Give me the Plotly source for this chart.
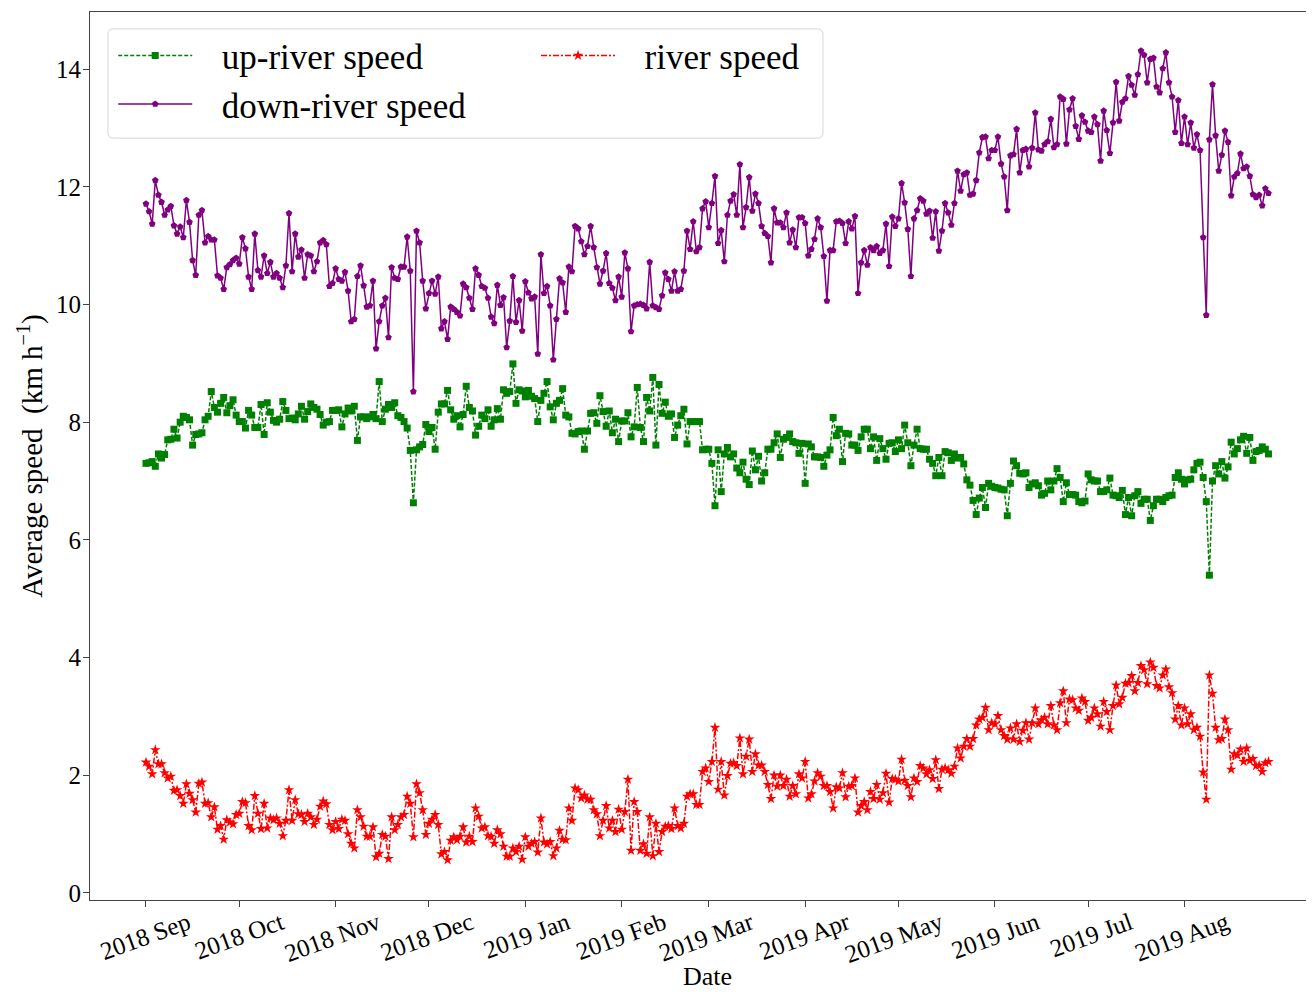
import pandas as pd
import plotly.graph_objects as go

# daily averages, 2018-09-01 .. 2019-08-28
start_date = "2018-09-01"

up_river = [
    7.30, 7.31, 7.33, 7.25, 7.46, 7.39, 7.45, 7.70, 7.71, 7.88,
    7.73, 8.00, 8.10, 8.08, 8.04, 7.61, 7.79, 7.80, 7.82, 8.04,
    8.10, 8.52, 8.25, 8.17, 8.32, 8.42, 8.16, 8.28, 8.38, 8.12,
    8.01, 8.01, 7.90, 8.20, 8.12, 7.91, 7.91, 8.30, 7.79, 8.33,
    8.17, 8.03, 8.00, 8.05, 8.35, 8.20, 8.06, 8.07, 8.04, 8.14,
    8.27, 8.05, 8.18, 8.31, 8.25, 8.22, 8.13, 7.95, 8.00, 8.01,
    8.20, 8.20, 8.21, 7.92, 8.14, 8.24, 8.19, 8.27, 7.69, 8.09,
    8.09, 8.06, 8.09, 8.13, 8.06, 8.69, 8.01, 8.22, 8.30, 8.25,
    8.33, 8.11, 8.08, 8.01, 7.90, 7.52, 6.63, 7.53, 7.58, 7.62, 7.96,
    7.84, 7.91, 7.54, 8.17, 8.31, 8.31, 8.54, 8.21, 8.05, 8.11,
    7.92, 8.13, 8.61, 8.25, 8.19, 7.78, 7.93, 8.12, 8.06, 8.21,
    7.93, 8.04, 8.23, 8.05, 8.55, 8.49, 8.52, 8.99, 8.32, 8.55,
    8.53, 8.43, 8.54, 8.44, 8.40, 8.01, 8.37, 8.49, 8.69, 8.26,
    8.04, 8.32, 8.37, 8.57, 8.12, 8.09, 7.81, 7.80, 7.84, 7.85,
    7.54, 7.85, 8.15, 8.16, 7.98, 8.45, 8.18, 7.93, 8.19, 7.82,
    8.05, 7.67, 8.02, 8.02, 8.16, 7.75, 7.92, 8.59, 7.91, 7.67,
    8.42, 8.19, 8.76, 7.61, 8.64, 8.15, 8.34, 8.10, 8.14, 7.74,
    7.95, 8.11, 8.22, 7.63, 8.01,
    8.01, 8.01, 8.01, 7.53, 7.54, 7.54, 7.30, 6.58, 7.53, 6.82,
    7.46, 7.57, 7.41, 7.46, 7.22, 7.14, 7.32, 7.03, 6.94, 7.51,
    7.19, 7.42, 7.00, 7.14, 7.54, 7.54, 7.65, 7.80, 7.40, 7.71,
    7.74, 7.80, 7.67, 7.65, 7.47, 7.64, 6.96, 7.63, 7.58, 7.41,
    7.41, 7.40, 7.25, 7.44, 7.53, 8.08, 7.77, 7.88, 7.33, 7.81,
    7.80, 7.61, 7.61, 7.52, 7.75, 7.88, 7.88, 7.55, 7.75, 7.35,
    7.72, 7.55, 7.37, 7.64, 7.65, 7.50, 7.70, 7.55, 7.95, 7.65,
    7.26, 7.61, 7.88, 7.55, 7.54, 7.54, 7.37, 7.30, 7.09, 7.40,
    7.09, 7.50, 7.48, 7.35, 7.46, 7.39, 7.40, 7.29, 7.02, 6.93,
    6.67, 6.43, 6.71, 6.89, 6.55, 6.96, 6.91, 6.89, 6.88, 6.86,
    6.85, 6.41, 6.96, 7.34, 7.26, 7.13, 7.12, 7.14, 6.89, 6.95,
    6.97, 6.92, 6.76, 6.79, 7.00, 6.85, 7.00, 7.21, 7.06, 6.65,
    6.97, 6.77, 6.77, 6.76, 6.65, 6.63, 6.66, 7.12, 7.02, 7.00,
    7.00, 6.82, 6.82, 6.85, 7.05, 6.76, 6.75, 6.72, 6.84, 6.43,
    6.72, 6.41, 6.75, 6.82, 6.62, 6.69, 6.69, 6.33, 6.58, 6.69,
    6.69, 6.65, 6.72, 6.75, 6.76, 7.06, 7.14, 7.03, 6.95, 7.02,
    7.03, 7.19, 7.30, 7.32, 7.06, 6.65, 5.40, 7.00, 7.26, 7.12,
    7.33, 7.05, 7.24, 7.66, 7.46, 7.55, 7.70, 7.76, 7.47, 7.74,
    7.35, 7.50, 7.52, 7.58, 7.54, 7.46,
]

down_river = [
    11.71, 11.58, 11.37, 12.11, 11.86, 11.74, 11.52, 11.61, 11.67, 11.34,
    11.20, 11.32, 11.14, 11.77, 11.40, 10.75, 10.50, 11.52, 11.60, 11.05,
    11.16, 11.10, 11.10, 10.49, 10.45, 10.26, 10.63, 10.68, 10.75, 10.79,
    10.69, 11.14, 10.95, 10.47, 10.26, 11.20, 10.58, 10.47, 10.83, 10.53,
    10.72, 10.47, 10.53, 10.45, 10.29, 10.66, 11.55, 10.56, 11.20, 10.81,
    10.93, 10.45, 10.85, 10.83, 10.56, 10.73, 11.05, 11.09, 11.02, 10.31,
    10.36, 10.61, 10.43, 10.40, 10.55, 10.23, 9.71, 9.75, 10.48, 10.66,
    10.32, 9.96, 9.98, 10.40, 9.25, 9.71, 9.98, 10.11, 9.44, 10.63,
    10.45, 10.43, 10.64, 10.64, 11.15, 10.57, 8.52, 11.25, 11.05, 10.40, 9.93,
    10.19, 10.40, 10.18, 10.47, 9.59, 9.71, 9.41, 9.96, 9.92, 9.87,
    9.81, 10.35, 10.29, 10.11, 9.92, 10.61, 10.50, 10.31, 10.28, 10.11,
    9.79, 9.68, 10.33, 9.99, 10.12, 9.27, 9.72, 10.48, 9.70, 10.07,
    9.55, 10.39, 10.20, 10.10, 10.13, 9.16, 10.85, 10.19, 10.31, 9.98,
    9.06, 9.75, 10.44, 10.37, 9.87, 10.64, 10.56, 11.33, 11.29, 11.07,
    10.85, 10.99, 11.33, 10.97, 10.63, 10.35, 10.57, 10.87, 10.36, 10.28,
    10.07, 10.47, 10.13, 10.88, 10.61, 9.54, 9.98, 10.00, 10.01, 9.99,
    9.93, 10.72, 9.98, 9.95, 9.92, 10.15, 10.54, 10.43, 10.23, 10.56,
    10.23, 10.26, 10.57, 11.25, 10.94,
    11.41, 10.90, 10.97, 11.63, 11.75, 11.31, 11.72, 12.18, 11.04, 11.26,
    10.73, 11.52, 11.76, 11.87, 11.52, 12.38, 11.31, 11.65, 12.16, 11.59,
    11.88, 11.72, 11.33, 11.21, 11.16, 10.71, 11.63, 11.39, 11.39, 11.31,
    11.56, 11.05, 11.27, 10.97, 11.48, 11.48, 11.38, 10.83, 10.94, 11.11,
    11.46, 11.31, 10.82, 10.06, 10.92, 10.92, 11.41, 11.42, 11.38, 11.04,
    11.41, 11.29, 11.50, 10.19, 10.71, 10.92, 10.67, 10.97, 10.92, 10.99,
    10.87, 10.92, 11.37, 10.65, 11.49, 11.33, 11.46, 12.06, 11.73, 11.28,
    10.48, 11.46, 11.60, 11.80, 11.76, 11.54, 11.59, 11.13, 11.58, 10.91,
    11.25, 11.72, 11.56, 11.35, 11.72, 12.27, 11.93, 12.21, 12.24, 11.86,
    11.88, 12.11, 12.58, 12.84, 12.85, 12.48, 12.62, 12.62, 12.85, 12.39,
    12.17, 11.60, 12.53, 12.55, 12.98, 12.24, 12.62, 12.64, 12.34, 12.66,
    13.26, 12.63, 12.61, 12.72, 12.77, 13.15, 12.67, 12.72, 13.53, 13.49,
    12.73, 13.31, 13.50, 13.03, 12.81, 13.21, 13.10, 12.95, 12.93, 13.19,
    13.06, 12.44, 13.29, 12.96, 12.57, 13.09, 13.78, 13.12, 13.44, 13.50,
    13.88, 13.73, 13.56, 13.91, 14.31, 14.24, 13.77, 14.17, 14.19, 13.70,
    13.60, 14.01, 14.28, 13.77, 13.53, 12.93, 13.47, 12.74, 13.19, 12.72,
    13.09, 12.66, 12.89, 12.62, 11.14, 9.82, 12.80, 13.74, 12.87, 12.27,
    12.54, 12.95, 12.76, 11.85, 12.17, 12.23, 12.56, 12.31, 12.34, 12.18,
    11.87, 11.82, 11.86, 11.68, 11.97, 11.89,
]

river = [
    2.22, 2.15, 2.02, 2.43, 2.19, 2.19, 2.04, 1.95, 1.98, 1.74,
    1.75, 1.65, 1.52, 1.85, 1.69, 1.58, 1.37, 1.86, 1.88, 1.52,
    1.53, 1.29, 1.46, 1.08, 1.14, 0.91, 1.24, 1.20, 1.17, 1.33,
    1.35, 1.55, 1.53, 1.14, 1.07, 1.65, 1.35, 1.09, 1.52, 1.10,
    1.27, 1.24, 1.27, 1.18, 0.97, 1.23, 1.75, 1.23, 1.58, 1.34,
    1.33, 1.21, 1.35, 1.29, 1.16, 1.25, 1.47, 1.56, 1.51, 1.16,
    1.07, 1.21, 1.09, 1.25, 1.23, 1.00, 0.84, 0.76, 1.41, 1.29,
    1.13, 0.96, 0.96, 1.12, 0.61, 0.67, 0.99, 0.96, 0.58, 1.29,
    1.07, 1.16, 1.29, 1.33, 1.64, 1.52, 0.95, 1.85, 1.70, 1.41, 0.99,
    1.18, 1.25, 1.33, 1.16, 0.66, 0.70, 0.56, 0.89, 0.95, 0.90,
    0.96, 1.12, 0.86, 0.96, 0.87, 1.44, 1.30, 1.10, 1.12, 0.97,
    0.96, 0.84, 1.07, 1.00, 0.79, 0.62, 0.62, 0.76, 0.70, 0.79,
    0.57, 0.95, 0.79, 0.84, 0.87, 0.69, 1.27, 0.86, 0.83, 0.87,
    0.63, 0.76, 1.06, 0.91, 0.90, 1.44, 1.23, 1.78, 1.75, 1.61,
    1.66, 1.59, 1.59, 1.41, 1.34, 0.97, 1.23, 1.48, 1.10, 1.23,
    1.04, 1.42, 1.08, 1.38, 1.93, 0.72, 1.55, 1.38, 0.72, 0.83,
    0.67, 1.29, 0.63, 1.18, 0.70, 1.04, 1.13, 1.14, 1.09, 1.44,
    1.14, 1.10, 1.18, 1.64, 1.68,
    1.68, 1.50, 1.50, 2.06, 2.12, 1.89, 2.23, 2.81, 1.76, 2.23,
    1.66, 1.99, 2.20, 2.21, 2.16, 2.63, 2.02, 2.32, 2.61, 2.06,
    2.36, 2.17, 2.17, 2.06, 1.84, 1.60, 2.00, 1.81, 2.00, 1.82,
    1.93, 1.64, 1.82, 1.68, 2.02, 1.95, 2.23, 1.61, 1.68, 1.90,
    2.04, 1.98, 1.82, 1.82, 1.72, 1.44, 1.80, 1.78, 2.04, 1.63,
    1.81, 1.82, 1.95, 1.37, 1.48, 1.55, 1.41, 1.72, 1.60, 1.84,
    1.59, 1.70, 2.03, 1.54, 1.94, 1.93, 1.90, 2.27, 1.91, 1.82,
    1.63, 1.95, 1.89, 2.16, 2.12, 2.02, 2.09, 1.94, 2.26, 1.77,
    2.10, 2.12, 2.09, 2.03, 2.15, 2.46, 2.29, 2.49, 2.62, 2.49,
    2.62, 2.85, 2.95, 2.98, 3.15, 2.77, 2.89, 2.87, 3.01, 2.77,
    2.67, 2.61, 2.80, 2.61, 2.87, 2.57, 2.76, 2.89, 2.61, 2.89,
    3.14, 2.87, 2.94, 2.98, 2.87, 3.18, 2.85, 2.77, 3.23, 3.43,
    2.89, 3.29, 3.28, 3.14, 3.10, 3.31, 3.25, 2.93, 2.98, 3.14,
    3.04, 2.83, 3.25, 3.08, 2.77, 3.18, 3.53, 3.21, 3.32, 3.56,
    3.57, 3.69, 3.43, 3.57, 3.86, 3.79, 3.55, 3.92, 3.83, 3.52,
    3.48, 3.70, 3.80, 3.50, 3.40, 2.95, 3.18, 2.85, 3.14, 2.87,
    3.04, 2.77, 2.81, 2.66, 2.05, 1.59, 3.70, 3.39, 2.81, 2.60,
    2.62, 2.95, 2.77, 2.10, 2.36, 2.34, 2.44, 2.23, 2.46, 2.25,
    2.28, 2.16, 2.17, 2.06, 2.21, 2.23,
]

dates = pd.date_range(start_date, periods=len(up_river), freq="D")
month_ticks = pd.date_range(start_date, dates[-1], freq="MS")

FONT = "Liberation Serif, Times New Roman, serif"
GAP = "\u2002\u2009"  # space between legend handle and its label

fig = go.Figure()

fig.add_trace(
    go.Scatter(
        x=dates,
        y=up_river,
        mode="lines+markers",
        name=GAP + "up-river speed",
        legend="legend",
        line=dict(color="green", width=1.5, dash="4px,2px"),
        marker=dict(symbol="square", size=7, color="green"),
    )
)
fig.add_trace(
    go.Scatter(
        x=dates,
        y=down_river,
        mode="lines+markers",
        name=GAP + "down-river speed",
        legend="legend",
        line=dict(color="purple", width=1.5),
        marker=dict(symbol="pentagon", size=7, color="purple"),
    )
)
fig.add_trace(
    go.Scatter(
        x=dates,
        y=river,
        mode="lines+markers",
        name=GAP + "river speed",
        legend="legend2",
        line=dict(color="red", width=1.5, dash="6px,2px,2px,2px"),
        marker=dict(symbol="star", size=8, color="red"),
    )
)

axis_common = dict(
    showline=True,
    mirror=True,
    linecolor="#444",
    linewidth=1,
    ticks="outside",
    ticklen=6,
    tickwidth=1,
    tickcolor="#444",
    showgrid=False,
    zeroline=False,
    automargin=False,
    tickfont=dict(family=FONT, size=25, color="black"),
)

fig.update_xaxes(
    **axis_common,
    range=["2018-08-14", "2019-09-11"],
    tickvals=month_ticks,
    tickformat="%Y %b",
    tickangle=-20,
    ticklabelshift=42,
    ticklabelstandoff=-8,
)
fig.update_yaxes(
    **axis_common,
    range=[-0.12, 14.97],
    dtick=2,
    ticklabelstandoff=-3,
    title=dict(
        text="Average speed\u00a0\u00a0(km h<sup>\u22121</sup>)",
        font=dict(family=FONT, size=29, color="black"),
        standoff=4,
    ),
)

# x-axis title placed under the rotated tick labels
fig.add_annotation(
    text="Date",
    x=0.505,
    y=-0.086,
    xref="paper",
    yref="paper",
    xanchor="center",
    yanchor="middle",
    showarrow=False,
    font=dict(family=FONT, size=26, color="black"),
)

# legend frame with rounded corners (both legend columns sit inside it)
x0, x1, y0, y1 = 0.0147, 0.5998, 0.858, 0.981
rx, ry = 0.0045, 0.0062
frame_path = (
    f"M {x0 + rx},{y0} L {x1 - rx},{y0} Q {x1},{y0} {x1},{y0 + ry} "
    f"L {x1},{y1 - ry} Q {x1},{y1} {x1 - rx},{y1} "
    f"L {x0 + rx},{y1} Q {x0},{y1} {x0},{y1 - ry} "
    f"L {x0},{y0 + ry} Q {x0},{y0} {x0 + rx},{y0} Z"
)
fig.add_shape(
    type="path",
    path=frame_path,
    xref="paper",
    yref="paper",
    line=dict(color="#d6d6d6", width=1),
    fillcolor="rgba(255,255,255,0.8)",
    layer="above",
)

legend_common = dict(
    orientation="v",
    yanchor="top",
    xanchor="left",
    y=0.984,
    bgcolor="rgba(0,0,0,0)",
    borderwidth=0,
    itemwidth=74,
    font=dict(family=FONT, size=35, color="black"),
)

fig.update_layout(
    width=1306,
    height=984,
    margin=dict(l=82, r=2, t=4, b=92),
    paper_bgcolor="white",
    plot_bgcolor="white",
    font=dict(family=FONT, color="black"),
    legend=dict(**legend_common, x=0.019),
    legend2=dict(**legend_common, x=0.365),
)

fig.write_html("out.html")
